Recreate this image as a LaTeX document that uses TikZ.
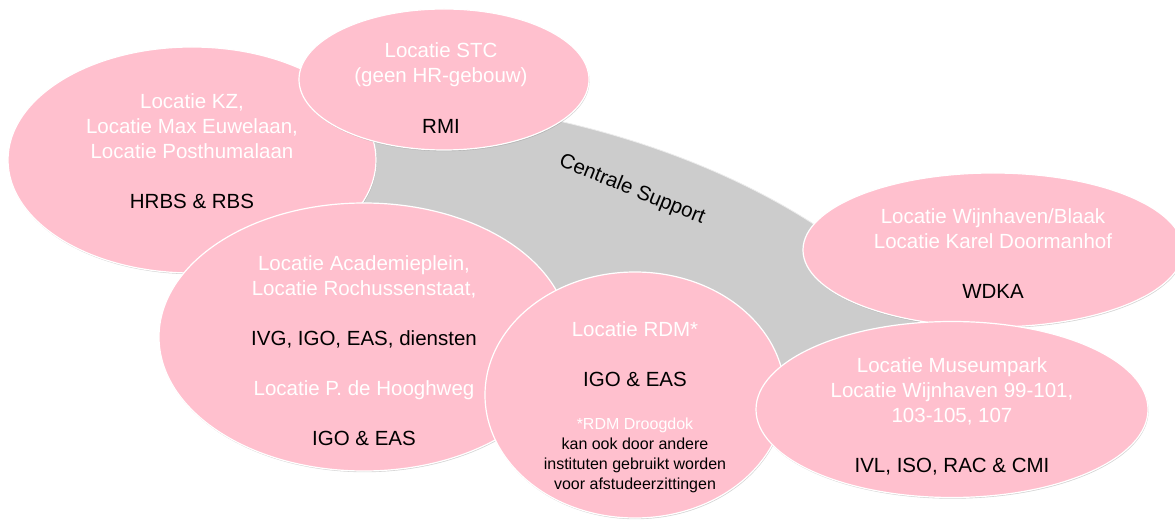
\documentclass[tikz,border=0pt]{standalone}
\usepackage{fontspec}
\setmainfont{Liberation Sans}
\usetikzlibrary{shapes.geometric,shadows}
\definecolor{pinkfill}{RGB}{255,192,206}
\definecolor{bandgray}{RGB}{204,204,204}
\begin{document}
\begin{tikzpicture}[x=1bp,y=-1bp,
  blob/.style={ellipse, inner sep=0pt, fill=pinkfill, draw=white, line width=1.2bp,
    drop shadow={shadow xshift=0.6bp, shadow yshift=-1.2bp, opacity=0.35, fill=gray}},
  txt/.style={align=center, text=black, font=\fontsize{20.5bp}{25bp}\selectfont},
  smalltxt/.style={align=center, text=black, font=\fontsize{16bp}{20bp}\selectfont}]
\useasboundingbox (0,0) rectangle (1175,521);
% central support band
\path[fill=bandgray, draw=white!85!gray, line width=0.8bp]
  (380,100) .. controls (520,100) and (700,145) .. (830,235) -- (960,300) -- (900,390)
  .. controls (760,370) and (600,330) .. (480,280) -- (300,190) -- cycle;
\node[rotate=-22, font=\fontsize{20.5bp}{25bp}\selectfont] (cs) at (632,190) {Centrale Support};
% ellipses
\node[blob, minimum width=368bp, minimum height=226bp] (kz) at (192,160) {};
\node[blob, minimum width=290bp, minimum height=141bp] (stc) at (444,79.5) {};
\node[blob, minimum width=410bp, minimum height=268bp] (acad) at (364,337) {};
\node[blob, minimum width=300bp, minimum height=246bp] (rdm) at (635,395) {};
\node[blob, minimum width=380bp, minimum height=154bp] (wdka) at (993,250) {};
\node[blob, minimum width=392bp, minimum height=176bp] (mus) at (952,409.5) {};
% texts
\node[txt] (kzt) at (192,151) {\textcolor{white}{Locatie KZ,}\\ \textcolor{white}{Locatie Max Euwelaan,}\\ \textcolor{white}{Locatie Posthumalaan}\\[25bp] HRBS \& RBS};
\node[txt] (stct) at (441,88) {\textcolor{white}{Locatie STC}\\ \textcolor{white}{(geen HR-gebouw)}\\[26bp] RMI};
\node[txt] (acadt) at (364,350.5) {\textcolor{white}{Locatie Academieplein,}\\ \textcolor{white}{Locatie Rochussenstaat,}\\[25bp] IVG, IGO, EAS, diensten\\[25bp] \textcolor{white}{Locatie P. de Hooghweg}\\[25bp] IGO \& EAS};
\node[txt] (rdmt) at (635,354) {\textcolor{white}{Locatie RDM*}\\[25bp] IGO \& EAS};
\node[smalltxt] (rdms) at (635,455) {\textcolor{white}{*RDM Droogdok}\\ kan ook door andere\\ instituten gebruikt worden\\ voor afstudeerzittingen};
\node[txt] (wdkat) at (993,254) {\textcolor{white}{Locatie Wijnhaven/Blaak}\\ \textcolor{white}{Locatie Karel Doormanhof}\\[25bp] WDKA};
\node[txt] (must) at (952,416.5) {\textcolor{white}{Locatie Museumpark}\\ \textcolor{white}{Locatie Wijnhaven 99-101,}\\ \textcolor{white}{103-105, 107}\\[25bp] IVL, ISO, RAC \& CMI};
\end{tikzpicture}
\end{document}
